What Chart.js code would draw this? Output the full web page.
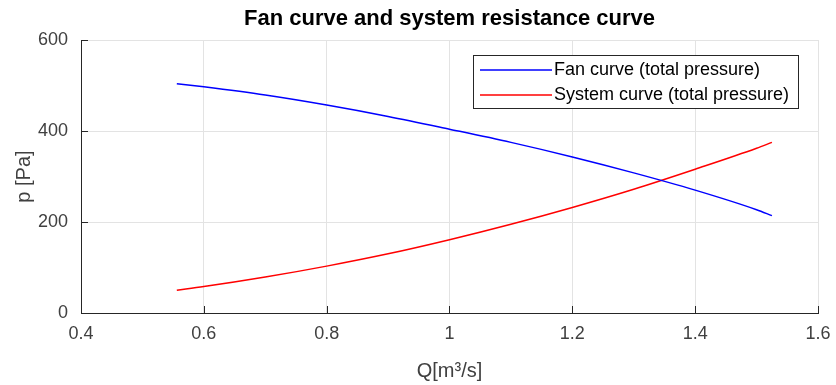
<!DOCTYPE html>
<html lang="en">
<head>
    <meta charset="UTF-8">
    <title>Fan curve and system resistance curve</title>
    <script src="https://cdn.jsdelivr.net/npm/chart.js"></script>
    <style>
        body { margin: 0; background: #fff; }
        #wrap { width: 836px; height: 385px; }
    </style>
</head>
<body>
    <div id="wrap">
        <canvas id="fanChart" width="836" height="385"></canvas>
    </div>

    <script>
        // values
        const flowQ = [0.556, 0.6, 0.7, 0.8, 0.9, 1.0, 1.1, 1.2, 1.3, 1.4, 1.5, 1.525];
        const fanP = [504, 497, 479, 457, 432, 404, 375, 343, 308, 270, 227, 214];
        const systemP = [50, 58, 79, 103, 130, 161, 195, 232, 272, 316, 362, 375];
        const seriesLabels = ['Fan curve (total pressure)', 'System curve (total pressure)'];
        const xTicks = [0.4, 0.6, 0.8, 1.0, 1.2, 1.4, 1.6];
        const yTicks = [0, 200, 400, 600];

        const FONT = '"Liberation Sans", Arial, sans-serif';
        const axisColor = '#262626';

        function toPoints(xs, ys) {
            return xs.map((x, i) => ({ x: x, y: ys[i] }));
        }

        // title centred over the plot area, like MATLAB does
        const titlePlugin = {
            id: 'plotTitle',
            afterDraw(chart) {
                const ctx = chart.ctx;
                const area = chart.chartArea;
                ctx.save();
                ctx.font = 'bold 22px ' + FONT;
                ctx.fillStyle = '#000';
                ctx.textAlign = 'center';
                ctx.textBaseline = 'middle';
                ctx.fillText('Fan curve and system resistance curve', (area.left + area.right) / 2, 19);
                ctx.restore();
            }
        };

        // inward tick marks on left and bottom axes
        const innerTicks = {
            id: 'innerTicks',
            afterDatasetsDraw(chart) {
                const ctx = chart.ctx;
                const area = chart.chartArea;
                const xs = chart.scales.x, ys = chart.scales.y;
                ctx.save();
                ctx.strokeStyle = axisColor;
                ctx.lineWidth = 1;
                ctx.beginPath();
                xTicks.forEach(v => {
                    const px = Math.round(xs.getPixelForValue(v)) + 0.5;
                    ctx.moveTo(px, area.bottom);
                    ctx.lineTo(px, area.bottom - 7);
                });
                yTicks.forEach(v => {
                    const py = Math.round(ys.getPixelForValue(v)) + 0.5;
                    ctx.moveTo(area.left, py);
                    ctx.lineTo(area.left + 7, py);
                });
                ctx.stroke();
                ctx.restore();
            }
        };

        // boxed legend inside the plot, top right
        const boxLegend = {
            id: 'boxLegend',
            afterDatasetsDraw(chart) {
                const ctx = chart.ctx;
                const x0 = 473, y0 = 55, w = 325, h = 53;
                ctx.save();
                ctx.fillStyle = '#fff';
                ctx.fillRect(x0, y0, w, h);
                ctx.strokeStyle = axisColor;
                ctx.lineWidth = 1;
                ctx.strokeRect(x0 + 0.5, y0 + 0.5, w, h);
                ctx.font = '18px ' + FONT;
                ctx.textBaseline = 'middle';
                chart.data.datasets.forEach((ds, i) => {
                    const yy = y0 + 15 + i * 25;
                    ctx.strokeStyle = ds.borderColor;
                    ctx.lineWidth = 1.3;
                    ctx.beginPath();
                    ctx.moveTo(x0 + 7, yy);
                    ctx.lineTo(x0 + 79, yy);
                    ctx.stroke();
                    ctx.fillStyle = '#000';
                    ctx.fillText(ds.label, x0 + 81, yy);
                });
                ctx.restore();
            }
        };

        const ctx = document.getElementById('fanChart').getContext('2d');
        new Chart(ctx, {
            type: 'line',
            data: {
                datasets: [
                    {
                        label: seriesLabels[0],
                        data: toPoints(flowQ, fanP),
                        borderColor: 'rgb(0, 0, 255)',
                        borderWidth: 1.5,
                        pointRadius: 0,
                        cubicInterpolationMode: 'monotone',
                        fill: false
                    },
                    {
                        label: seriesLabels[1],
                        data: toPoints(flowQ, systemP),
                        borderColor: 'rgb(255, 0, 0)',
                        borderWidth: 1.5,
                        pointRadius: 0,
                        cubicInterpolationMode: 'monotone',
                        fill: false
                    }
                ]
            },
            options: {
                responsive: false,
                animation: false,
                layout: { padding: { top: 40, right: 18, left: 0, bottom: 0 } },
                plugins: {
                    legend: { display: false },
                    title: { display: false },
                    tooltip: { enabled: false }
                },
                scales: {
                    x: {
                        type: 'linear',
                        min: 0.4,
                        max: 1.6,
                        afterBuildTicks: s => { s.ticks = xTicks.map(v => ({ value: v })); },
                        afterFit: s => { s.height = 72; s.paddingLeft = 0; s.paddingRight = 0; },
                        ticks: {
                            color: '#404040',
                            font: { family: FONT, size: 18 },
                            padding: 10,
                            maxRotation: 0,
                            callback: v => String(Number(v.toFixed(1)))
                        },
                        grid: { color: '#e3e3e3', drawTicks: false },
                        border: { color: axisColor, width: 1 },
                        title: {
                            display: true,
                            text: 'Q[m³/s]',
                            color: '#404040',
                            font: { family: FONT, size: 20 },
                            padding: { top: 0, bottom: 2 }
                        }
                    },
                    y: {
                        min: 0,
                        max: 600,
                        afterBuildTicks: s => { s.ticks = yTicks.map(v => ({ value: v })); },
                        afterFit: s => { s.width = 81; s.paddingTop = 0; s.paddingBottom = 0; },
                        ticks: {
                            color: '#404040',
                            font: { family: FONT, size: 18 },
                            padding: 13
                        },
                        grid: { color: '#e3e3e3', drawTicks: false },
                        border: { color: axisColor, width: 1 },
                        title: {
                            display: true,
                            text: 'p [Pa]',
                            color: '#404040',
                            font: { family: FONT, size: 20 },
                            padding: { top: 12, bottom: 0 }
                        }
                    }
                }
            },
            plugins: [titlePlugin, innerTicks, boxLegend]
        });
    </script>
</body>
</html>
